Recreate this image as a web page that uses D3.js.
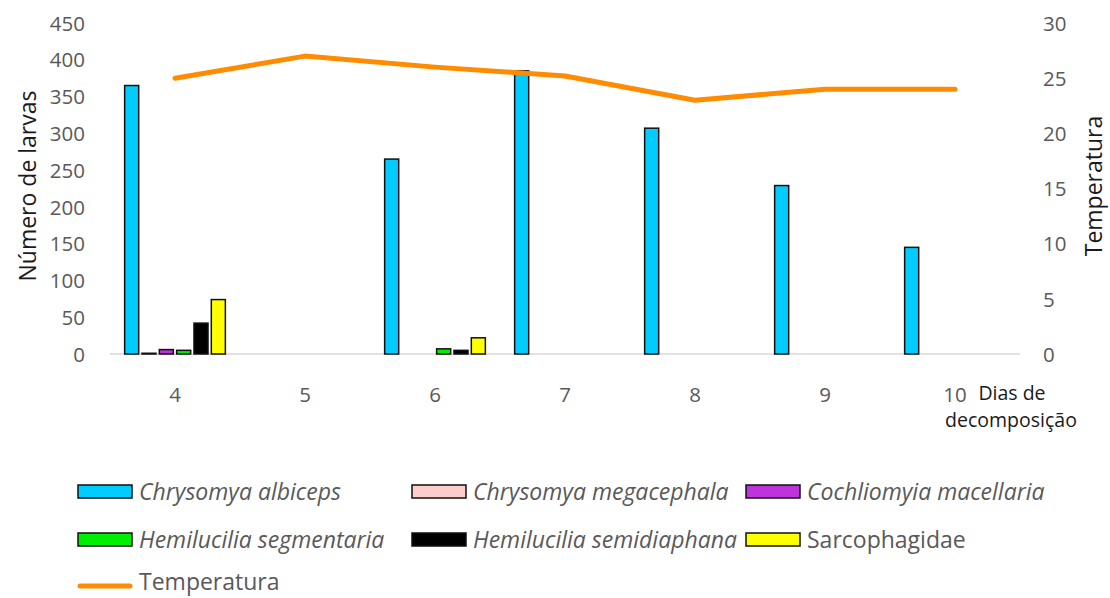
<!DOCTYPE html>
<html>
<head>
<meta charset="utf-8">
<script src="https://cdn.jsdelivr.net/npm/d3@7/dist/d3.min.js"></script>
<style>
  html, body { margin: 0; padding: 0; background: #ffffff; }
  svg { display: block; font-family: "Open Sans", "Noto Sans", sans-serif; }
</style>
</head>
<body>
<svg id="chart" width="1110" height="598"></svg>
<script>
// Days of decomposition (categories)
const days = ["4", "5", "6", "7", "8", "9", "10"];

// Larvae counts per taxon, one value per day
const chrysomyaAlbiceps      = [365, 0, 265, 385, 307, 229, 145];
const chrysomyaMegacephala   = [1, 0, 0, 0, 0, 0, 0];
const cochliomyiaMacellaria  = [6, 0, 0, 0, 0, 0, 0];
const hemiluciliaSegmentaria = [5, 0, 7, 0, 0, 0, 0];
const hemiluciliaSemidiaphana = [42, 0, 5, 0, 0, 0, 0];
const sarcophagidae          = [74, 0, 22, 0, 0, 0, 0];

// Temperature per day
const temperatura = [25, 27, 26, 25.2, 23, 24, 24];

// Axis ticks
const leftTicks = [0, 50, 100, 150, 200, 250, 300, 350, 400, 450];
const rightTicks = [0, 5, 10, 15, 20, 25, 30];

const series = [
  { name: "Chrysomya albiceps", values: chrysomyaAlbiceps, color: "#00CCFF", italic: true },
  { name: "Chrysomya megacephala", values: chrysomyaMegacephala, color: "#FFCCCC", italic: true },
  { name: "Cochliomyia macellaria", values: cochliomyiaMacellaria, color: "#BF33DC", italic: true },
  { name: "Hemilucilia segmentaria", values: hemiluciliaSegmentaria, color: "#00EE00", italic: true },
  { name: "Hemilucilia semidiaphana", values: hemiluciliaSemidiaphana, color: "#000000", italic: true },
  { name: "Sarcophagidae", values: sarcophagidae, color: "#FFFF00", italic: false }
];

const svg = d3.select("#chart");
const plot = { left: 110, right: 1020, top: 23, bottom: 354 };
const textGray = "#595959";
const tickFont = "20.5px";

const x0 = d3.scaleBand().domain(days).range([plot.left, plot.right]).paddingInner(0).paddingOuter(0);
const x1 = d3.scaleBand().domain(series.map(s => s.name)).range([13, 117]).paddingInner(0.19).paddingOuter(0.095);
const yL = d3.scaleLinear().domain([0, 450]).range([plot.bottom, plot.top]);
const yR = d3.scaleLinear().domain([0, 30]).range([plot.bottom, plot.top]);

function styleAxis(g) {
  g.attr("font-family", null).attr("font-size", null);
  g.select(".domain").remove();
  g.selectAll("text").attr("fill", textGray).style("font-size", tickFont).attr("dy", "0.35em");
}

// Left axis labels
svg.append("g")
  .attr("transform", `translate(${plot.left - 25},0)`)
  .call(d3.axisLeft(yL).tickValues(leftTicks).tickSize(0).tickPadding(0))
  .call(styleAxis);

// Right axis labels
svg.append("g")
  .attr("transform", `translate(${plot.right + 23},0)`)
  .call(d3.axisRight(yR).tickValues(rightTicks).tickSize(0).tickPadding(0))
  .call(styleAxis);

// Category labels
svg.append("g")
  .attr("transform", `translate(0,${plot.bottom + 41})`)
  .call(d3.axisBottom(x0).tickSize(0).tickPadding(0))
  .call(styleAxis)
  .selectAll("text").attr("y", 0);

// Baseline
svg.append("line")
  .attr("x1", plot.left).attr("x2", plot.right)
  .attr("y1", yL(0)).attr("y2", yL(0))
  .attr("stroke", "#d9d9d9").attr("stroke-width", 1.3);

// Bars
const groups = svg.append("g").selectAll("g")
  .data(days)
  .join("g")
  .attr("transform", d => `translate(${x0(d)},0)`);

groups.selectAll("rect")
  .data((d, i) => series.filter(s => s.values[i] > 0).map(s => ({ s, v: s.values[i] })))
  .join("rect")
  .attr("x", d => x1(d.s.name))
  .attr("width", x1.bandwidth())
  .attr("y", d => yL(d.v))
  .attr("height", d => yL(0) - yL(d.v))
  .attr("fill", d => d.s.color)
  .attr("stroke", "#111")
  .attr("stroke-width", 1.5);

// Temperature line
const line = d3.line()
  .x((d, i) => x0(days[i]) + x0.bandwidth() / 2)
  .y(d => yR(d));
svg.append("path")
  .datum(temperatura)
  .attr("d", line)
  .attr("fill", "none")
  .attr("stroke", "#FF8C00")
  .attr("stroke-width", 5)
  .attr("stroke-linecap", "round")
  .attr("stroke-linejoin", "round");

// Axis titles
svg.append("text")
  .attr("transform", "translate(36,186) rotate(-90)")
  .attr("text-anchor", "middle")
  .attr("fill", "#1a1a1a")
  .style("font-size", "23px")
  .text("Número de larvas");

svg.append("text")
  .attr("transform", "translate(1102,186) rotate(-90)")
  .attr("text-anchor", "middle")
  .attr("fill", "#1a1a1a")
  .style("font-size", "23px")
  .text("Temperatura");

const xTitle = svg.append("text")
  .attr("text-anchor", "middle")
  .attr("fill", "#1a1a1a")
  .style("font-size", "19.5px");
xTitle.append("tspan").attr("x", 1012).attr("y", 400).text("Dias de");
xTitle.append("tspan").attr("x", 1011).attr("y", 427).text("decomposição");

// Legend
const legendCols = [78, 412, 746];
const legendRows = [492, 540];
const legendFont = "23px";
const legend = svg.append("g");
series.forEach((s, i) => {
  const cx = legendCols[i % 3];
  const cy = legendRows[Math.floor(i / 3)];
  legend.append("rect")
    .attr("x", cx).attr("y", cy - 7)
    .attr("width", 54).attr("height", 13)
    .attr("fill", s.color)
    .attr("stroke", "#111").attr("stroke-width", 1.5);
  legend.append("text")
    .attr("x", cx + 61).attr("y", cy)
    .attr("dy", "0.35em")
    .attr("fill", textGray)
    .style("font-size", legendFont)
    .style("font-style", s.italic ? "italic" : "normal")
    .text(s.name);
});
legend.append("line")
  .attr("x1", 80).attr("x2", 130)
  .attr("y1", 586).attr("y2", 586)
  .attr("stroke", "#FF8C00").attr("stroke-width", 5)
  .attr("stroke-linecap", "round");
legend.append("text")
  .attr("x", 139).attr("y", 582)
  .attr("dy", "0.35em")
  .attr("fill", textGray)
  .style("font-size", legendFont)
  .text("Temperatura");
</script>
</body>
</html>
